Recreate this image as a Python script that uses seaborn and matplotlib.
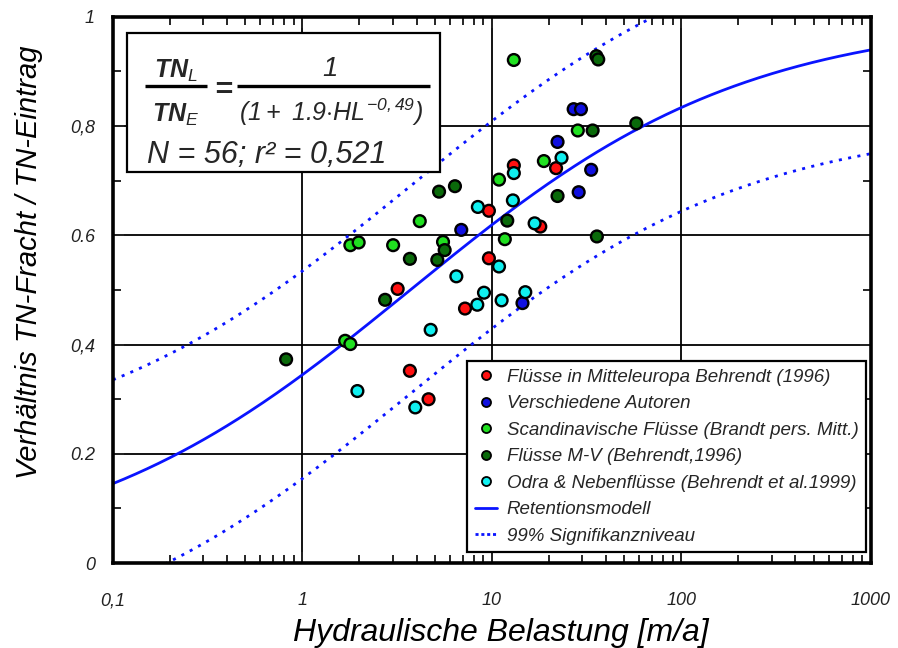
import numpy as np
import pandas as pd
import seaborn as sns
import matplotlib.pyplot as plt
from matplotlib.lines import Line2D
from matplotlib.patches import Rectangle
from matplotlib.ticker import MultipleLocator, NullFormatter

sns.set_style("ticks")
plt.rcParams['font.family'] = ['Liberation Sans', 'DejaVu Sans']
plt.rcParams['mathtext.fontset'] = 'custom'
plt.rcParams['mathtext.rm'] = 'Liberation Sans:italic'
plt.rcParams['mathtext.it'] = 'Liberation Sans:italic'
plt.rcParams['mathtext.bf'] = 'Liberation Sans:italic:bold'

# data: hydraulic load [m/a] and TN ratio per source
groups = ["Flüsse in Mitteleuropa Behrendt (1996)",
          "Verschiedene Autoren",
          "Scandinavische Flüsse (Brandt pers. Mitt.)",
          "Flüsse M-V (Behrendt,1996)",
          "Odra & Nebenflüsse (Behrendt et al.1999)"]
colors = ["#ff1010", "#1010e0", "#20e020", "#0a6a0a", "#10f0f0"]

red_x = [3.18, 7.21, 3.69, 4.63, 13.05, 21.8, 9.64, 18.0, 9.64]
red_y = [0.502, 0.466, 0.352, 0.300, 0.728, 0.723, 0.645, 0.616, 0.558]

blue_x = [6.89, 27.0, 29.5, 22.2, 33.4, 28.7, 14.5]
blue_y = [0.610, 0.831, 0.831, 0.771, 0.720, 0.679, 0.476]

lgreen_x = [1.79, 1.98, 4.16, 3.01, 5.52, 1.68, 1.79, 13.05, 28.4, 18.8, 10.9, 11.7]
lgreen_y = [0.582, 0.587, 0.626, 0.582, 0.588, 0.407, 0.401, 0.921, 0.792, 0.736, 0.702, 0.593]

dgreen_x = [0.82, 5.26, 6.38, 5.63, 3.69, 5.15, 2.73, 35.6, 36.4, 34.0, 57.8, 22.2, 12.05, 35.8]
dgreen_y = [0.373, 0.680, 0.690, 0.573, 0.557, 0.555, 0.482, 0.928, 0.922, 0.792, 0.805, 0.672, 0.627, 0.598]

cyan_x = [6.49, 4.75, 1.95, 3.94, 23.3, 13.05, 12.9, 8.43, 16.8, 10.9, 9.08, 15.0, 8.37, 11.25]
cyan_y = [0.525, 0.427, 0.315, 0.285, 0.742, 0.714, 0.664, 0.652, 0.622, 0.543, 0.495, 0.496, 0.473, 0.481]

model_a = 1.9
model_b = 0.49
band = 0.19

xs = [red_x, blue_x, lgreen_x, dgreen_x, cyan_x]
ys = [red_y, blue_y, lgreen_y, dgreen_y, cyan_y]
df = pd.concat([pd.DataFrame({"hl": x, "ratio": y, "group": g})
                for x, y, g in zip(xs, ys, groups)], ignore_index=True)

hl = np.logspace(-1, 3, 400)
model = 1 / (1 + model_a * hl ** -model_b)

fig = plt.figure(figsize=(8.98, 6.48), dpi=100)
ax = fig.add_axes([0.1258, 0.131, 0.844, 0.843])

ax.plot(hl, model, color="#0a14ff", lw=2.0, zorder=2)
ax.plot(hl, model + band, color="#0a14ff", lw=2.0, ls=(0, (1.1, 2.3)), zorder=2)
ax.plot(hl, model - band, color="#0a14ff", lw=2.0, ls=(0, (1.1, 2.3)), zorder=2)

sns.scatterplot(data=df, x="hl", y="ratio", hue="group", hue_order=groups,
                palette=colors, s=72, edgecolor="black", linewidth=1.7,
                legend=False, ax=ax, zorder=3)

ax.set_xscale("log")
ax.set_xlim(0.1, 1000)
ax.set_ylim(0, 1)
ax.set_xticks([0.1, 1, 10, 100, 1000])
ax.set_xticklabels(["0,1", "1", "10", "100", "1000"])
ax.xaxis.set_minor_formatter(NullFormatter())
ax.set_yticks([0, 0.2, 0.4, 0.6, 0.8, 1.0])
ax.set_yticklabels(["0", "0.2", "0,4", "0.6", "0,8", "1"])
ax.yaxis.set_minor_locator(MultipleLocator(0.1))
ax.grid(True, which="major", color="black", lw=1.3)
ax.tick_params(which="both", direction="in", top=True, right=True,
               width=1.4, labelsize=13, labelcolor="#222222")
ax.tick_params(which="major", length=8)
ax.tick_params(which="minor", length=6)
ax.tick_params(axis="x", pad=21)
ax.tick_params(axis="y", pad=13)
for lab in ax.get_xticklabels() + ax.get_yticklabels():
    lab.set_fontstyle("italic")
for sp in ax.spines.values():
    sp.set_linewidth(2.6)
    sp.set_color("black")

ax.set_xlabel("Hydraulische Belastung [m/a]", fontsize=23, style="italic", color="black")
ax.set_ylabel("Verhältnis TN-Fracht / TN-Eintrag", fontsize=21, style="italic", color="black")


def px(x, y):
    # pixel position in the 898x648 picture -> axes fraction
    return (x - 113) / 758, (563 - y) / 546


ax.xaxis.set_label_coords(*px(501, 618))
ax.yaxis.set_label_coords(*px(43, 262))

# equation box
x0, y0 = px(127, 172)
x1, y1 = px(440, 33)
ax.add_patch(Rectangle((x0, y0), x1 - x0, y1 - y0, transform=ax.transAxes,
                       facecolor="white", edgecolor="black", lw=1.6, zorder=4))
eq_kw = dict(transform=ax.transAxes, zorder=5, ha="center", va="baseline")
ax.text(*px(176, 78), r"$\mathbf{TN}_{L}$", fontsize=18, **eq_kw)
ax.text(*px(176, 122), r"$\mathbf{TN}_{E}$", fontsize=18, **eq_kw)
ax.text(*px(221, 97), r"$\mathbf{=}$", fontsize=22, **eq_kw)
ax.text(*px(330, 76), "1", fontsize=20, style="italic", **eq_kw)
ax.text(*px(331, 121), r"$(1+\ 1.9{\cdot}HL^{-0,49})$", fontsize=18, **eq_kw)
for xa, xb in [(145, 207), (237, 430)]:
    (u0, v0), (u1, _) = px(xa, 86), px(xb, 86)
    ax.plot([u0, u1], [v0, v0], color="black", lw=2.4, transform=ax.transAxes,
            zorder=5, solid_capstyle="butt")
ax.text(*px(147, 163), "N = 56; r² = 0,521", fontsize=22, style="italic",
        transform=ax.transAxes, zorder=5, ha="left", va="baseline")

handles = [Line2D([], [], ls="", marker="o", ms=6.5, mfc=c, mec="black", mew=1.3)
           for c in colors]
handles.append(Line2D([], [], color="#0a14ff", lw=2.0))
handles.append(Line2D([], [], color="#0a14ff", lw=2.0, ls=(0, (1.1, 1.0))))
lx, ly = px(866, 552)
leg = ax.legend(handles, groups + ["Retentionsmodell", "99% Signifikanzniveau"],
                loc="lower right", bbox_to_anchor=(lx, ly), borderaxespad=0,
                fancybox=False, framealpha=1, edgecolor="black",
                prop={"style": "italic", "size": 13.5},
                labelspacing=0.5, handlelength=1.2, handletextpad=0.5,
                borderpad=0.4)
leg.get_frame().set_linewidth(1.6)
leg.set_zorder(6)

fig.savefig("out.png", dpi=100)
